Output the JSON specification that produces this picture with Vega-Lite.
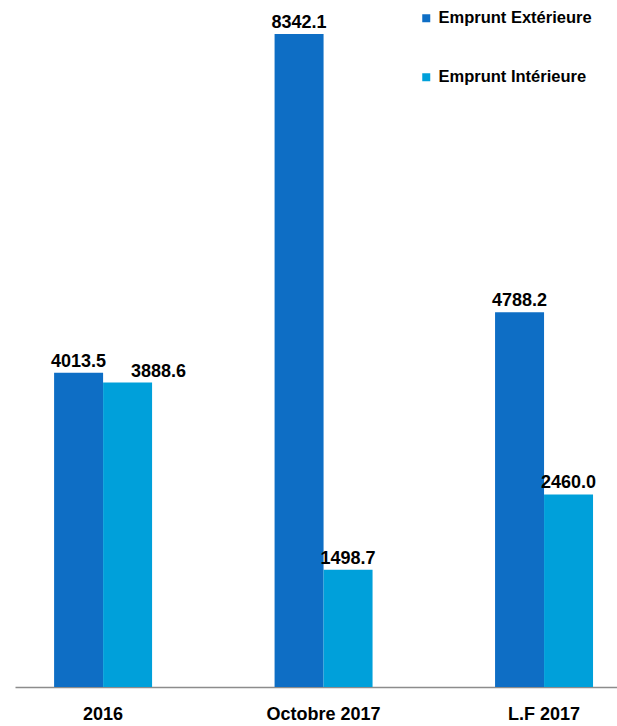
{
  "$schema": "https://vega.github.io/schema/vega-lite/v6.json",
  "width": 602,
  "height": 687,
  "autosize": {"type": "none"},
  "padding": {"left": 15, "right": 0, "top": 0, "bottom": 39},
  "background": "white",
  "data": {
    "values": [
      {"periode": "2016", "type": "Emprunt Extérieure", "montant": 4013.5},
      {"periode": "2016", "type": "Emprunt Intérieure", "montant": 3888.6},
      {"periode": "Octobre 2017", "type": "Emprunt Extérieure", "montant": 8342.1},
      {"periode": "Octobre 2017", "type": "Emprunt Intérieure", "montant": 1498.7},
      {"periode": "L.F 2017", "type": "Emprunt Extérieure", "montant": 4788.2},
      {"periode": "L.F 2017", "type": "Emprunt Intérieure", "montant": 2460.0}
    ]
  },
  "encoding": {
    "x": {
      "field": "periode",
      "type": "nominal",
      "sort": ["2016", "Octobre 2017", "L.F 2017"],
      "title": null,
      "scale": {"paddingInner": 0.5556, "paddingOuter": 0.143, "align": 0.62},
      "axis": {
        "labelAngle": 0,
        "ticks": false,
        "domainColor": "#8c8c8c",
        "domainWidth": 1.5,
        "labelFont": "Liberation Sans",
        "labelFontSize": 18,
        "labelFontWeight": "bold",
        "labelColor": "#000000",
        "labelPadding": 18
      }
    },
    "xOffset": {
      "field": "type",
      "type": "nominal",
      "sort": ["Emprunt Extérieure", "Emprunt Intérieure"],
      "scale": {"paddingInner": 0, "paddingOuter": 0}
    },
    "y": {
      "field": "montant",
      "type": "quantitative",
      "scale": {"domain": [0, 8776], "nice": false},
      "axis": null
    }
  },
  "layer": [
    {
      "mark": {"type": "bar"},
      "encoding": {
        "color": {
          "field": "type",
          "type": "nominal",
          "sort": ["Emprunt Extérieure", "Emprunt Intérieure"],
          "scale": {"range": ["#0E6EC5", "#00A0DA"]},
          "legend": {
            "orient": "none",
            "legendX": 403,
            "legendY": 10,
            "title": null,
            "symbolType": "square",
            "symbolSize": 64,
            "symbolStrokeWidth": 0,
            "labelFont": "Liberation Sans",
            "labelFontSize": 16.5,
            "labelFontWeight": "bold",
            "labelColor": "#000000",
            "labelOffset": 4,
            "rowPadding": 42
          }
        }
      }
    },
    {
      "transform": [{"filter": "!(datum.periode == '2016' && datum.type == 'Emprunt Intérieure')"}],
      "mark": {
        "type": "text",
        "baseline": "alphabetic",
        "dy": -6,
        "font": "Liberation Sans",
        "fontSize": 18,
        "fontWeight": "bold",
        "color": "#000000"
      },
      "encoding": {
        "text": {"field": "montant", "type": "quantitative", "format": ".1f"}
      }
    },
    {
      "transform": [{"filter": "datum.periode == '2016' && datum.type == 'Emprunt Intérieure'"}],
      "mark": {
        "type": "text",
        "baseline": "alphabetic",
        "dy": -6,
        "dx": 31,
        "font": "Liberation Sans",
        "fontSize": 18,
        "fontWeight": "bold",
        "color": "#000000"
      },
      "encoding": {
        "text": {"field": "montant", "type": "quantitative", "format": ".1f"}
      }
    }
  ],
  "config": {
    "view": {"stroke": null}
  }
}
